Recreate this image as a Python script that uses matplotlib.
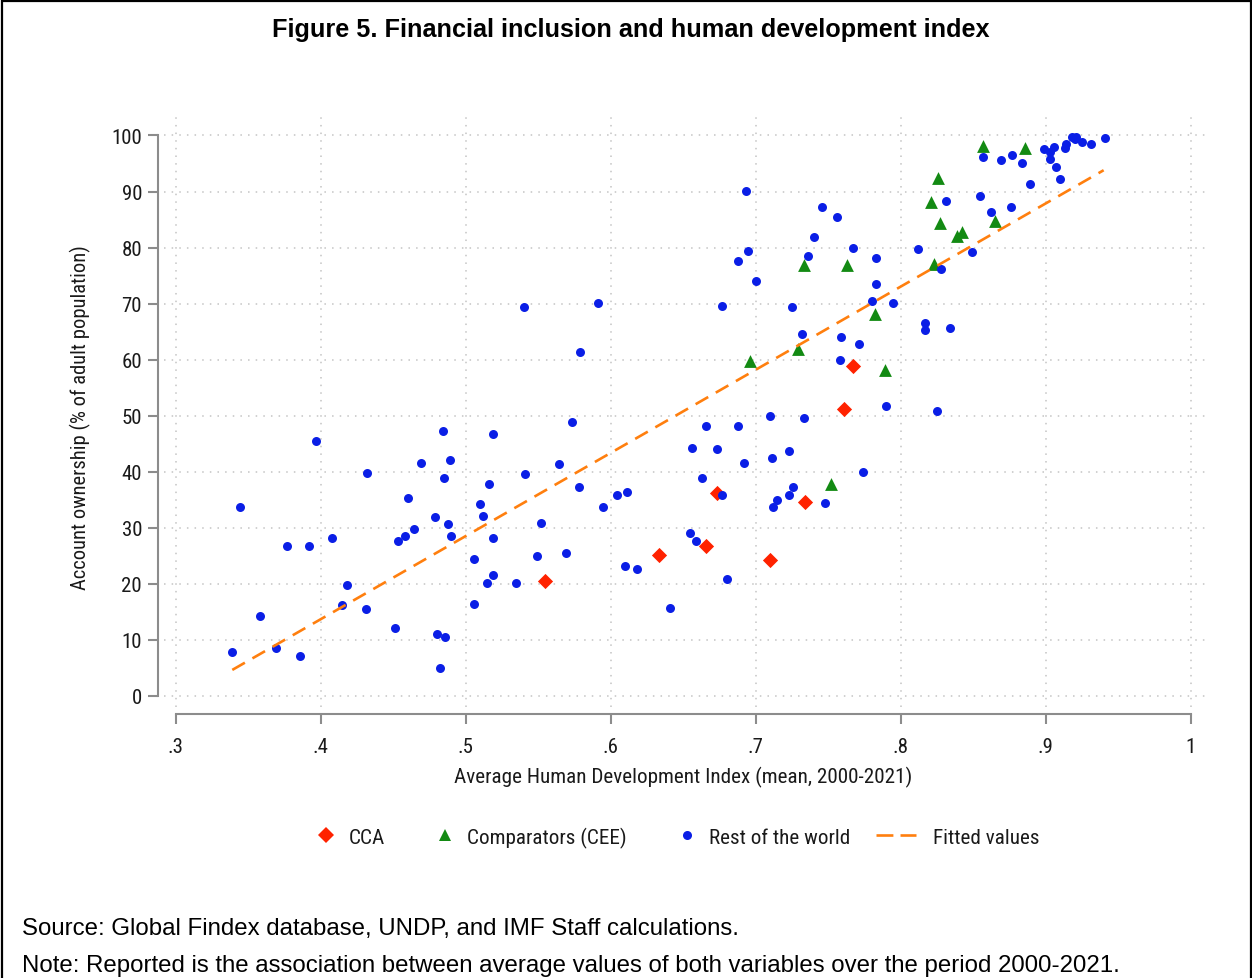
import matplotlib
matplotlib.use("Agg")
import matplotlib.pyplot as plt
from matplotlib.lines import Line2D
from matplotlib.patches import Rectangle
from matplotlib.legend_handler import HandlerLine2D

# CCA countries (red diamonds)
cca_hdi = [0.555, 0.633, 0.666, 0.673, 0.710, 0.734, 0.761, 0.767]
cca_acc = [20.5, 25.1, 26.7, 36.1, 24.2, 34.5, 51.1, 58.8]

# comparators, CEE (green triangles)
cee_hdi = [0.696, 0.729, 0.733, 0.763, 0.782, 0.789, 0.752, 0.857, 0.886,
           0.826, 0.821, 0.827, 0.865, 0.839, 0.842, 0.823]
cee_acc = [59.7, 61.9, 76.9, 76.8, 68.1, 58.2, 37.7, 98.1, 97.8,
           92.5, 88.2, 84.3, 84.8, 82.1, 82.7, 77.0]

# rest of the world (blue dots)
row_hdi = [0.540, 0.344, 0.397, 0.484, 0.519, 0.469, 0.489, 0.485, 0.432, 0.541,
           0.460, 0.516, 0.510, 0.512, 0.479, 0.488, 0.464, 0.458, 0.453, 0.490,
           0.519, 0.408, 0.377, 0.392, 0.506, 0.519, 0.515, 0.535, 0.418, 0.415,
           0.431, 0.506, 0.358, 0.451, 0.480, 0.486, 0.339, 0.369, 0.386, 0.482,
           0.591, 0.700, 0.677, 0.725, 0.732, 0.579, 0.573, 0.666, 0.688, 0.710,
           0.733, 0.656, 0.673, 0.711, 0.723, 0.692, 0.564, 0.663, 0.578, 0.604,
           0.611, 0.677, 0.595, 0.726, 0.723, 0.715, 0.712, 0.748, 0.552, 0.549,
           0.569, 0.655, 0.659, 0.610, 0.618, 0.680, 0.641, 0.693, 0.746, 0.756,
           0.740, 0.767, 0.695, 0.736, 0.783, 0.812, 0.688, 0.783, 0.780, 0.795,
           0.817, 0.817, 0.759, 0.771, 0.758, 0.790, 0.774, 0.857, 0.869, 0.877,
           0.884, 0.889, 0.899, 0.903, 0.903, 0.906, 0.907, 0.910, 0.913, 0.914,
           0.918, 0.921, 0.920, 0.925, 0.931, 0.941, 0.831, 0.855, 0.862, 0.876,
           0.849, 0.828, 0.834, 0.825]
row_acc = [69.3, 33.6, 45.4, 47.3, 46.7, 41.6, 42.0, 38.9, 39.7, 39.5,
           35.2, 37.8, 34.2, 32.0, 31.9, 30.7, 29.8, 28.5, 27.6, 28.5,
           28.2, 28.2, 26.7, 26.7, 24.4, 21.6, 20.2, 20.1, 19.8, 16.1,
           15.5, 16.3, 14.3, 12.1, 11.0, 10.5, 7.8, 8.5, 7.1, 5.0,
           70.1, 74.1, 69.5, 69.4, 64.6, 61.4, 48.8, 48.2, 48.1, 49.9,
           49.5, 44.3, 44.1, 42.5, 43.6, 41.5, 41.3, 38.9, 37.2, 35.8,
           36.4, 35.8, 33.7, 37.3, 35.8, 34.9, 33.6, 34.4, 30.9, 25.0,
           25.5, 29.1, 27.6, 23.2, 22.6, 20.9, 15.6, 90.1, 87.3, 85.5,
           81.9, 80.0, 79.4, 78.5, 78.2, 79.8, 77.6, 73.5, 70.5, 70.1,
           66.6, 65.3, 64.1, 62.7, 60.0, 51.7, 39.9, 96.2, 95.6, 96.6,
           95.1, 91.4, 97.6, 97.0, 95.8, 98.0, 94.3, 92.3, 97.8, 98.5,
           99.7, 99.7, 99.3, 98.9, 98.5, 99.6, 88.3, 89.2, 86.3, 87.2,
           79.2, 76.2, 65.7, 50.8]

# fitted line, end points
fit_hdi = [0.339, 0.940]
fit_acc = [4.6, 93.8]

x_ticks = [0.3, 0.4, 0.5, 0.6, 0.7, 0.8, 0.9, 1.0]
x_tick_labels = [".3", ".4", ".5", ".6", ".7", ".8", ".9", "1"]
y_ticks = [0, 10, 20, 30, 40, 50, 60, 70, 80, 90, 100]

NARROW = ["Roboto Condensed", "Liberation Sans", "DejaVu Sans"]
REG = ["Liberation Sans", "DejaVu Sans"]
plt.rcParams["font.family"] = NARROW
C_CCA, C_CEE, C_ROW, C_FIT = "#ff2200", "#138a13", "#0a1ee6", "#ff7f0e"
AXC = "#8c8c8c"
TXT = "#1a1a1a"
DASH = (0, (5.5, 3.3))


class MarkerKey(HandlerLine2D):
    """Stata-style key: marker sits next to its label, not centred in the key box."""
    def get_xdata(self, legend, xdescent, ydescent, width, height, fontsize):
        xd, _ = super().get_xdata(legend, xdescent, ydescent, width, height, fontsize)
        m = -xdescent + width - 0.26 * fontsize
        return [m - 0.5, m + 0.5], [m]


fig = plt.figure(figsize=(12.52, 9.79), dpi=100)
ax = fig.add_axes([164 / 1252, 1 - 708 / 979, 1041 / 1252, 590 / 979])

ax.scatter(cca_hdi, cca_acc, marker="D", s=60, color=C_CCA, lw=0, zorder=3)
ax.scatter(cee_hdi, cee_acc, marker="^", s=85, color=C_CEE, lw=0, zorder=3)
ax.scatter(row_hdi, row_acc, marker="o", s=42, color=C_ROW, lw=0, zorder=3)
ax.plot(fit_hdi, fit_acc, color=C_FIT, lw=1.9, ls=DASH, zorder=4)

ax.set_xlim(0.2919, 1.0099)
ax.set_ylim(-2.02, 103.3)
ax.set_xticks(x_ticks)
ax.set_xticklabels(x_tick_labels)
ax.set_yticks(y_ticks)
ax.set_yticklabels([str(v) for v in y_ticks])
ax.grid(True, color="#c4c4c4", lw=1.1, ls=(0, (1, 4)))
ax.set_axisbelow(True)

for s in ("top", "right"):
    ax.spines[s].set_visible(False)
ax.spines["left"].set_position(("outward", 4.3))
ax.spines["bottom"].set_position(("outward", 5))
ax.spines["left"].set_bounds(0, 100)
ax.spines["bottom"].set_bounds(0.3, 1.0)
for s in ("left", "bottom"):
    ax.spines[s].set_color(AXC)
    ax.spines[s].set_linewidth(1.5)
ax.tick_params(axis="both", color=AXC, width=1.5, length=7.5, labelcolor=TXT, labelsize=15)
ax.tick_params(axis="x", pad=9)
ax.tick_params(axis="y", pad=4)

ax.set_xlabel("Average Human Development Index (mean, 2000-2021)",
              fontsize=15.2, va="center", color=TXT)
ax.xaxis.set_label_coords(0.4986, -0.117)
ax.set_ylabel("Account ownership (% of adult population)",
              fontsize=14.8, va="center", ha="center", color=TXT)
ax.yaxis.set_label_coords(-0.0807, 0.493)

h_cca = Line2D([], [], marker="D", ls="none", color=C_CCA, markersize=7.7, mew=0)
h_cee = Line2D([], [], marker="^", ls="none", color=C_CEE, markersize=9.2, mew=0)
h_row = Line2D([], [], marker="o", ls="none", color=C_ROW, markersize=6.5, mew=0)
h_fit = Line2D([], [], color=C_FIT, lw=1.9, ls=(0, (6.4, 2.7)))
labels = ["CCA", "Comparators (CEE)", "Rest of the world", "Fitted values"]
fig.legend([h_cca, h_cee, h_row, h_fit], labels, ncol=4, loc="center",
           bbox_to_anchor=(0.5316, 1 - 838 / 979), frameon=False, prop={"size": 15.2},
           handlelength=1.9, handletextpad=0.8, columnspacing=1.2, labelcolor=TXT,
           handler_map={h_cca: MarkerKey(), h_cee: MarkerKey(), h_row: MarkerKey()})

fig.text(0.5036, 1 - 30 / 979, "Figure 5. Financial inclusion and human development index",
         ha="center", va="center", family=REG, fontsize=18.2, fontweight="bold")
fig.text(22 / 1252, 1 - 929 / 979, "Source: Global Findex database, UNDP, and IMF Staff calculations.",
         ha="left", va="center", family=REG, fontsize=17.3)
fig.text(22 / 1252, 1 - 966 / 979,
         "Note: Reported is the association between average values of both variables over the period 2000-2021.",
         ha="left", va="center", family=REG, fontsize=17.3)

# outer frame around the whole figure
fig.add_artist(Rectangle((1.5 / 1252, -0.01), 1 - 3 / 1252, 1.008, transform=fig.transFigure,
                         fill=False, ec="black", lw=1.6))

fig.savefig("out.png", dpi=100, facecolor="white")
